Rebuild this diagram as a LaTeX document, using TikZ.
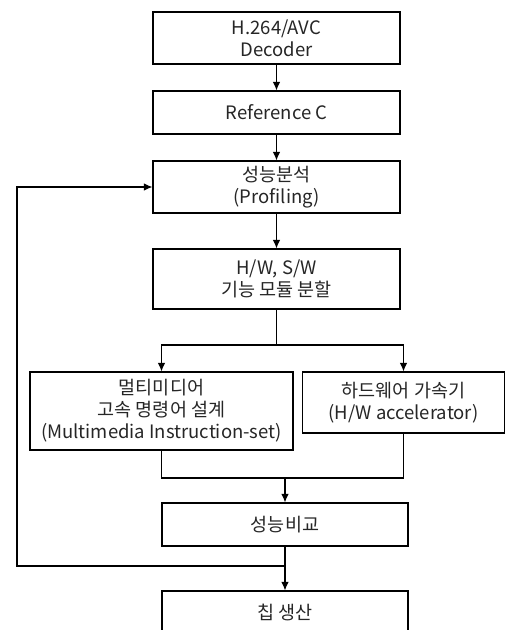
\documentclass[tikz,border=0pt]{standalone}
\usepackage{fontspec}
\setmainfont{Noto Sans CJK KR}
\usetikzlibrary{arrows.meta,positioning}

\tikzset{
  box/.style={draw, line width=1.1pt, align=center, inner sep=0pt,
    text=black!85, font=\fontsize{18.5}{22}\selectfont},
  link/.style={line width=1.1pt},
  flow/.style={link, -{Latex[length=8.5pt,width=7.5pt]}}
}

\begin{document}
\begin{tikzpicture}[x=1pt,y=-1pt]
\clip (0,0) rectangle (505,630);
\fill[white] (0,0) rectangle (505,630);

% main column
\node[box, minimum width=247pt, minimum height=52pt] (dec) at (276.5,38) {H.264/AVC\\Decoder};
\node[box, minimum width=247pt, minimum height=43pt] (ref) at (276.5,112.5) {Reference C};
\node[box, minimum width=247pt, minimum height=52pt] (prof) at (276.5,187) {성능분석\\(Profiling)};
\node[box, minimum width=247pt, minimum height=60pt] (part) at (276.5,279) {H/W, S/W\\기능 모듈 분할};

% two branches
\node[box, minimum width=263pt, minimum height=78pt] (mis) at (161.5,411) {멀티미디어\\고속 명령어 설계\\(Multimedia Instruction-set)};
\node[box, minimum width=202pt, minimum height=61pt] (hwa) at (403.5,402.5) {하드웨어 가속기\\(H/W accelerator)};

\node[box, minimum width=246pt, minimum height=43pt] (cmp) at (285,524.5) {성능비교};
\node[box, minimum width=246pt, minimum height=43pt] (chip) at (285,612.5) {칩 생산};

\coordinate (split) at (276.5,345);
\coordinate (merge) at (285,478);
\coordinate (join) at (285,566);
\coordinate (back) at (17,566);

\draw[flow] (dec) -- (ref);
\draw[flow] (ref) -- (prof);
\draw[flow] (prof) -- (part);
\draw[link] (part) -- (split);
\draw[flow] (split) -| (mis.north);
\draw[flow] (split) -| (hwa.north);
\draw[link] (mis.south) |- (merge) -| (hwa.south);
\draw[flow] (merge) -- (cmp);
\draw[flow] (cmp) -- (chip);
% feedback loop
\draw[flow] (join) -- (back) |- (prof.west);
\end{tikzpicture}
\end{document}
